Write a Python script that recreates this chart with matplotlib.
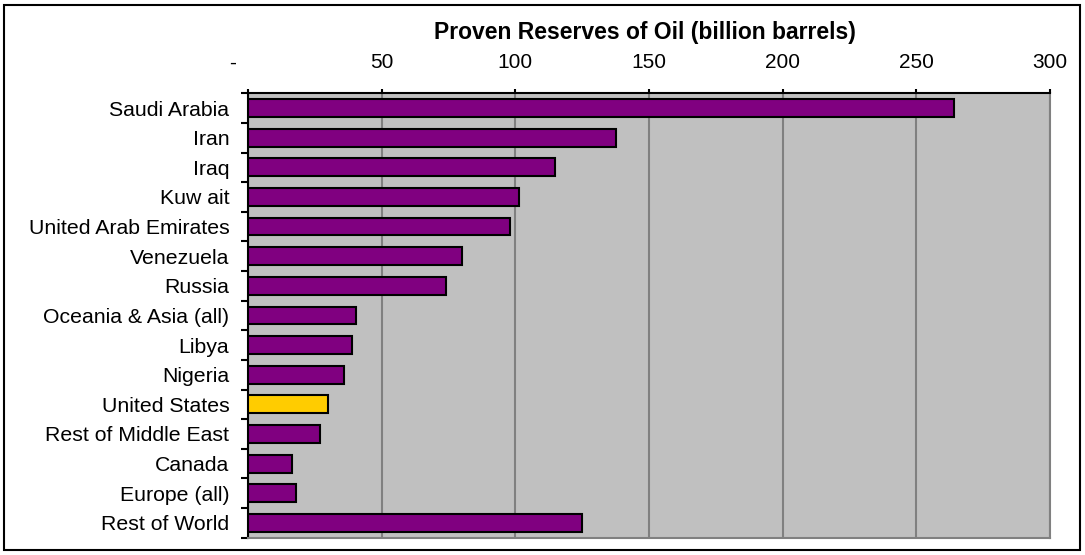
import matplotlib.pyplot as plt
import matplotlib.ticker as mticker
import matplotlib.transforms as mtransforms
from matplotlib.patches import Rectangle
import numpy as np

plt.rcParams['font.family'] = ['Liberation Sans', 'DejaVu Sans']

# 数据
countries = ['Saudi Arabia', 'Iran', 'Iraq', 'Kuw ait', 'United Arab Emirates',
             'Venezuela', 'Russia', 'Oceania & Asia (all)', 'Libya', 'Nigeria',
             'United States', 'Rest of Middle East', 'Canada', 'Europe (all)',
             'Rest of World']
reserves = [264, 137.5, 115, 101.5, 98, 80, 74, 40.3, 39, 36, 30, 27, 16.5, 18, 125]
highlight = 'United States'

xticks = [0, 50, 100, 150, 200, 250, 300]
xticklabels = ['-', '50', '100', '150', '200', '250', '300']

fig = plt.figure(figsize=(10.85, 5.55), dpi=100)
ax = fig.add_axes([0.2286, 0.0312, 0.9677 - 0.2286, 0.8319 - 0.0312])

y = np.arange(len(countries))
colors = ['#FFCC00' if c == highlight else '#800080' for c in countries]
ax.barh(y, reserves, height=0.6, color=colors, edgecolor='black', linewidth=1.5, zorder=3)

ax.set_facecolor('#C0C0C0')
ax.set_xlim(0, 300)
ax.set_ylim(len(countries) - 0.5, -0.5)

# 横轴在上方
ax.xaxis.tick_top()
ax.set_xticks(xticks)
ax.set_xticklabels(xticklabels, fontsize=15)
ax.tick_params(axis='x', direction='out', length=3, width=1.5, pad=12, color='black')
ax.grid(axis='x', color='#808080', linewidth=1.5, zorder=1)
# "-" 标签稍微偏左
lbl0 = ax.get_xticklabels()[0]
lbl0.set_transform(lbl0.get_transform() +
                   mtransforms.ScaledTranslation(-15 / 100, 0, fig.dpi_scale_trans))

# 纵轴：标签居中，刻度在分界处
ax.set_yticks(y)
ax.set_yticklabels(countries, fontsize=15.3)
ax.yaxis.set_minor_locator(mticker.FixedLocator(np.arange(-0.5, len(countries), 1)))
ax.tick_params(axis='y', which='major', length=0, pad=13.5)
ax.tick_params(axis='y', which='minor', direction='out', length=5, width=1.5, color='black')

for s in ['top', 'left']:
    ax.spines[s].set_color('black')
    ax.spines[s].set_linewidth(1.5)
for s in ['right', 'bottom']:
    ax.spines[s].set_color('#808080')
    ax.spines[s].set_linewidth(1.5)

fig.text(645 / 1085, 1 - 32 / 555, 'Proven Reserves of Oil (billion barrels)',
         ha='center', va='center', fontsize=16.5, fontweight='bold')

# 外框
fig.patches.append(Rectangle((4 / 1085, 5 / 555), 1076 / 1085, 545 / 555,
                             transform=fig.transFigure, fill=False,
                             edgecolor='black', linewidth=1.5))

plt.savefig('out.png', dpi=100)
